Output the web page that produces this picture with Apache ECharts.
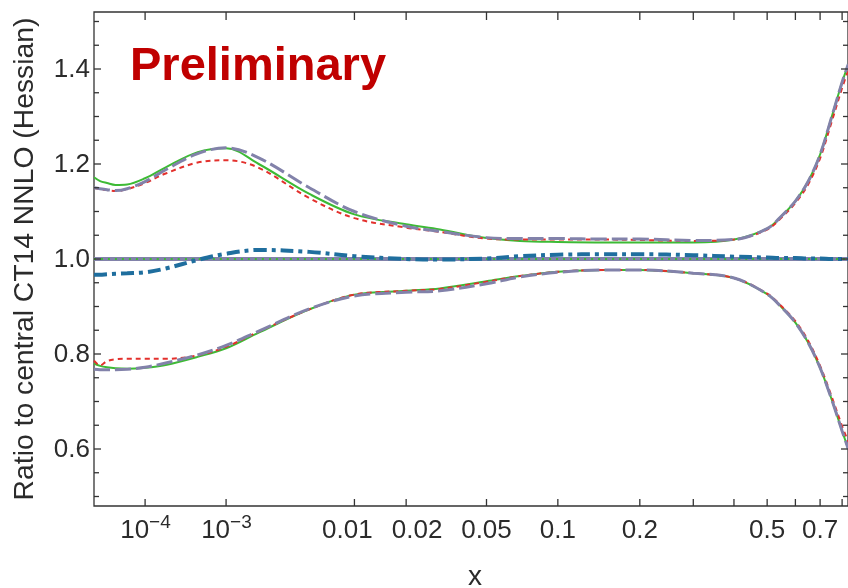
<!DOCTYPE html>
<html>
<head>
<meta charset="utf-8">
<script src="https://cdn.jsdelivr.net/npm/echarts@6/dist/echarts.min.js"></script>
<style>
  html, body { margin: 0; padding: 0; background: #ffffff; }
  #chart { width: 848px; height: 588px; }
</style>
</head>
<body>
<div id="chart"></div>
<script>
// Momentum fraction x at which every curve is sampled
const xGrid = [1e-5, 1.4e-5, 2e-5, 3e-5, 5e-5, 1e-4, 2e-4, 5e-4, 1e-3, 2e-3, 5e-3,
  0.01, 0.02, 0.03, 0.05, 0.07, 0.1, 0.15, 0.2, 0.3, 0.4, 0.5, 0.55, 0.6, 0.65, 0.7, 0.75, 0.8, 0.83];

// Upper / lower edges of the three Hessian uncertainty bands
const greenUpper  = [1.172, 1.164, 1.160, 1.156, 1.157, 1.170, 1.193, 1.225, 1.233, 1.200, 1.137,
  1.094, 1.073, 1.062, 1.044, 1.038, 1.036, 1.035, 1.035, 1.035, 1.041, 1.064, 1.091, 1.122, 1.163, 1.220, 1.297, 1.372, 1.410];
const redUpper    = [1.150, 1.147, 1.145, 1.143, 1.147, 1.160, 1.180, 1.203, 1.208, 1.192, 1.128,
  1.086, 1.066, 1.057, 1.043, 1.041, 1.041, 1.041, 1.040, 1.038, 1.041, 1.062, 1.088, 1.118, 1.157, 1.212, 1.287, 1.360, 1.398];
const purpleUpper = [1.150, 1.148, 1.146, 1.144, 1.148, 1.163, 1.188, 1.222, 1.234, 1.213, 1.150,
  1.100, 1.069, 1.058, 1.045, 1.043, 1.043, 1.042, 1.042, 1.039, 1.041, 1.064, 1.091, 1.122, 1.163, 1.220, 1.297, 1.372, 1.410];
const greenLower  = [0.780, 0.775, 0.772, 0.770, 0.769, 0.771, 0.777, 0.794, 0.812, 0.845, 0.894,
  0.925, 0.933, 0.938, 0.953, 0.964, 0.973, 0.977, 0.977, 0.970, 0.960, 0.926, 0.898, 0.866, 0.824, 0.771, 0.706, 0.638, 0.600];
const redLower    = [0.786, 0.776, 0.785, 0.789, 0.790, 0.790, 0.790, 0.797, 0.815, 0.847, 0.894,
  0.925, 0.933, 0.937, 0.952, 0.964, 0.973, 0.977, 0.977, 0.970, 0.960, 0.927, 0.900, 0.869, 0.828, 0.775, 0.712, 0.648, 0.615];
const purpleLower = [0.768, 0.767, 0.767, 0.767, 0.768, 0.772, 0.781, 0.798, 0.818, 0.848, 0.895,
  0.922, 0.930, 0.933, 0.948, 0.962, 0.972, 0.977, 0.977, 0.970, 0.960, 0.926, 0.898, 0.866, 0.824, 0.771, 0.706, 0.638, 0.600];

// Central value of the alternative fit relative to CT14 NNLO
const blueCentral = [0.967, 0.967, 0.968, 0.969, 0.970, 0.972, 0.980, 0.998, 1.011, 1.019, 1.015,
  1.006, 1.000, 0.999, 1.001, 1.006, 1.009, 1.010, 1.010, 1.008, 1.005, 1.003, 1.002, 1.002, 1.001, 1.001, 1.000, 1.000, 1.000];

// Reference central lines (ratio of CT14 to itself)
const centralX = [1e-5, 0.83];
const purpleCentral = [1, 1];
const greenCentral = [1, 1];

// Axis ticks
const xTickValues = [1e-4, 1e-3, 0.01, 0.02, 0.05, 0.1, 0.2, 0.3, 0.4, 0.5, 0.6, 0.7, 0.8];
const xTickLabels = ['10^−4', '10^−3', '0.01', '0.02', '0.05', '0.1', '0.2', '', '', '0.5', '', '0.7', ''];
const yMajorValues = [0.6, 0.8, 1.0, 1.2, 1.4];
const yMajorLabels = ['0.6', '0.8', '1.0', '1.2', '1.4'];
const yMinorValues = [0.5, 0.55, 0.65, 0.7, 0.75, 0.85, 0.9, 0.95, 1.05, 1.1, 1.15, 1.25, 1.3, 1.35, 1.45, 1.5];

// Crowded neighbouring labels are nudged apart (pixels)
const xLabelNudge = { '0.01': -7, '0.02': 11 };

// Horizontal axis is scaled as x^(1/5)
const POW = 0.2;
const tx = v => Math.pow(v, POW);
const X_MIN = 1e-5, X_MAX = 0.8286;
const Y_MIN = 0.48, Y_MAX = 1.52;

const FONT = '"Liberation Sans", Arial, Helvetica, sans-serif';
const AXIS = '#333333';
const TEXT = '#2b2b2b';

const pairs = (xs, ys) => xs.map((x, i) => [tx(x), ys[i]]);

function lineSeries(name, xs, ys, color, width, type, z) {
  return {
    name, type: 'line', data: pairs(xs, ys), smooth: 0.35, symbol: 'none',
    lineStyle: { color, width, type }, z, silent: true, clip: true
  };
}

function xTickItem(params, api) {
  const cs = params.coordSys;
  const px = api.coord([api.value(0), Y_MIN])[0];
  const top = cs.y, bottom = cs.y + cs.height;
  const children = [
    { type: 'line', shape: { x1: px, y1: bottom, x2: px, y2: bottom - 7 }, style: { stroke: AXIS, lineWidth: 1.3 } },
    { type: 'line', shape: { x1: px, y1: top, x2: px, y2: top + 8 }, style: { stroke: AXIS, lineWidth: 1.3 } }
  ];
  const label = xTickLabels[params.dataIndex];
  if (label) {
    const ly = bottom + 25;
    if (label.indexOf('^') >= 0) {
      const parts = label.split('^');
      children.push({ type: 'text', x: px + 4, y: ly, style: { text: parts[0], fill: TEXT, font: '26px ' + FONT, align: 'right', verticalAlign: 'middle' } });
      children.push({ type: 'text', x: px + 4, y: ly - 8, style: { text: parts[1], fill: TEXT, font: '19px ' + FONT, align: 'left', verticalAlign: 'middle' } });
    } else {
      const lx = px + (xLabelNudge[label] || 0);
      children.push({ type: 'text', x: lx, y: ly, style: { text: label, fill: TEXT, font: '26px ' + FONT, align: 'center', verticalAlign: 'middle' } });
    }
  }
  return { type: 'group', children };
}

function yTickItem(len, withLabel) {
  return function (params, api) {
    const cs = params.coordSys;
    const py = api.coord([tx(X_MIN), api.value(1)])[1];
    const left = cs.x, right = cs.x + cs.width;
    const children = [
      { type: 'line', shape: { x1: left, y1: py, x2: left + len, y2: py }, style: { stroke: AXIS, lineWidth: 1.3 } },
      { type: 'line', shape: { x1: right, y1: py, x2: right - len, y2: py }, style: { stroke: AXIS, lineWidth: 1.3 } }
    ];
    if (withLabel) {
      children.push({ type: 'text', x: left - 4, y: py + 1, style: { text: yMajorLabels[params.dataIndex], fill: TEXT, font: '26px ' + FONT, align: 'right', verticalAlign: 'middle' } });
    }
    return { type: 'group', children };
  };
}

const chart = echarts.init(document.getElementById('chart'), null, { renderer: 'canvas' });
chart.setOption({
  animation: false,
  backgroundColor: '#ffffff',
  grid: { left: 94, top: 12, width: 755, height: 494, show: true, borderColor: AXIS, borderWidth: 1.3, backgroundColor: 'transparent' },
  xAxis: {
    type: 'value', min: tx(X_MIN), max: tx(X_MAX),
    axisLine: { show: false }, axisTick: { show: false }, axisLabel: { show: false }, splitLine: { show: false }
  },
  yAxis: {
    type: 'value', min: Y_MIN, max: Y_MAX,
    axisLine: { show: false }, axisTick: { show: false }, axisLabel: { show: false }, splitLine: { show: false }
  },
  graphic: [
    {
      type: 'text', x: 25, y: 259, rotation: Math.PI / 2,
      style: { text: 'Ratio to central CT14 NNLO (Hessian)', fill: TEXT, font: '28.3px ' + FONT, align: 'center', verticalAlign: 'middle' }
    },
    {
      type: 'text', x: 475, y: 577,
      style: { text: 'x', fill: TEXT, font: '28px ' + FONT, align: 'center', verticalAlign: 'middle' }
    },
    {
      type: 'text', left: 130, top: 44,
      style: { text: 'Preliminary', fill: '#c00000', font: 'bold 47px ' + FONT }
    }
  ],
  series: [
    lineSeries('green upper', xGrid, greenUpper, '#3dba35', 2, 'solid', 2),
    lineSeries('green lower', xGrid, greenLower, '#3dba35', 2, 'solid', 2),
    lineSeries('red upper', xGrid, redUpper, '#e3302c', 2, [5, 4], 3),
    lineSeries('red lower', xGrid, redLower, '#e3302c', 2, [5, 4], 3),
    lineSeries('purple upper', xGrid, purpleUpper, '#8282aa', 3, [16, 5], 4),
    lineSeries('purple lower', xGrid, purpleLower, '#8282aa', 3, [16, 5], 4),
    lineSeries('purple central', centralX, purpleCentral, '#8282aa', 4, 'solid', 5),
    lineSeries('green central', centralX, greenCentral, '#3dba35', 2, [2, 5], 6),
    lineSeries('blue central', xGrid, blueCentral, '#1f6e9e', 4, [13, 5, 4, 5], 7),
    {
      type: 'custom', silent: true, z: 10, clip: false,
      data: xTickValues.map(v => [tx(v), Y_MIN]), renderItem: xTickItem
    },
    {
      type: 'custom', silent: true, z: 10, clip: false,
      data: yMajorValues.map(v => [tx(X_MIN), v]), renderItem: yTickItem(7, true)
    },
    {
      type: 'custom', silent: true, z: 10, clip: false,
      data: yMinorValues.map(v => [tx(X_MIN), v]), renderItem: yTickItem(5, false)
    }
  ]
});
</script>
</body>
</html>
